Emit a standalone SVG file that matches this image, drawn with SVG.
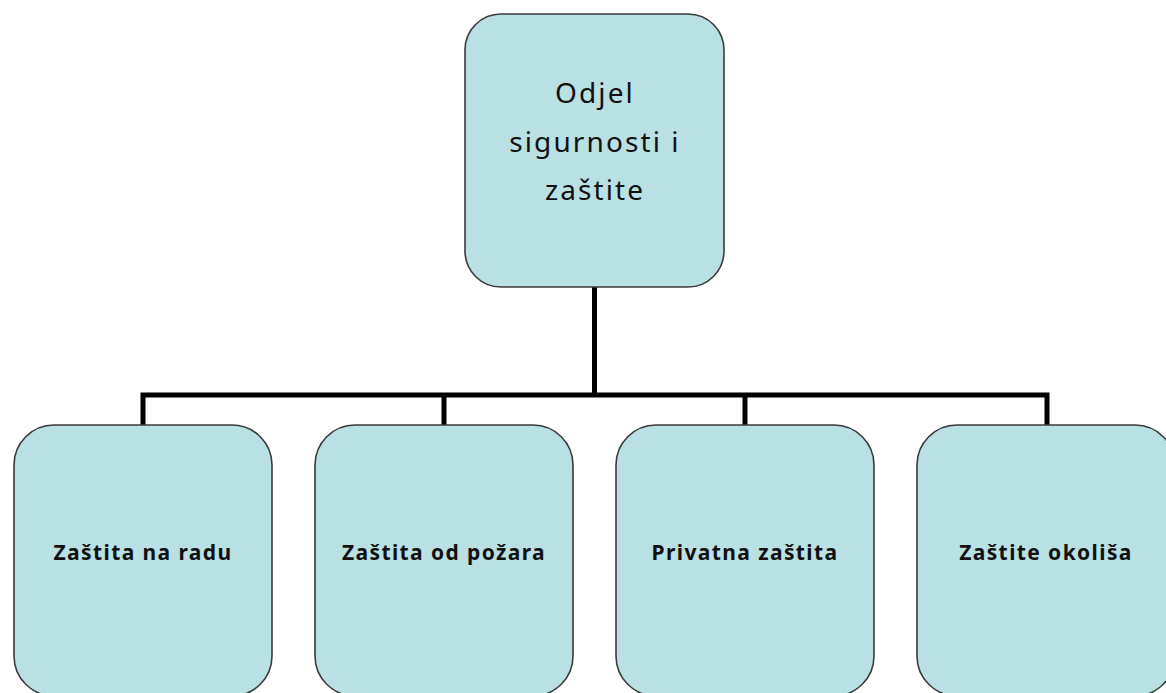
<svg xmlns="http://www.w3.org/2000/svg" width="1166" height="693" viewBox="0 0 1166 693">
<style>
.box{fill:#b9e0e3;stroke:#3a3a3a;stroke-width:1.6}
.top{font-family:"Noto Sans","DejaVu Sans",sans-serif;font-size:28px;letter-spacing:2.1px;fill:#111;text-anchor:middle}
.lbl{font-family:"Noto Sans","DejaVu Sans",sans-serif;font-size:21px;font-weight:bold;letter-spacing:1.4px;fill:#111;text-anchor:middle}
.con{fill:none;stroke:#000;stroke-width:5;stroke-linejoin:miter;stroke-linecap:butt}
</style>
<rect width="1166" height="693" fill="#fff"/>
<g id="connectors">
<path class="con" d="M594.5 287 V395"/>
<path class="con" d="M143 425 V395 H1047 V425"/>
<path class="con" d="M444 395 V425"/>
<path class="con" d="M745 395 V425"/>
</g>
<g id="node-root">
<rect class="box" x="465" y="14" width="259" height="273" rx="36" ry="36"/>
<text class="top" x="595" y="103">Odjel</text>
<text class="top" x="595" y="152">sigurnosti i</text>
<text class="top" x="595" y="200">zaštite</text>
</g>
<g id="node-1">
<rect class="box" x="14" y="425" width="258" height="271" rx="40" ry="40"/>
<text class="lbl" x="143" y="560">Zaštita na radu</text>
</g>
<g id="node-2">
<rect class="box" x="315" y="425" width="258" height="271" rx="40" ry="40"/>
<text class="lbl" x="444" y="560">Zaštita od požara</text>
</g>
<g id="node-3">
<rect class="box" x="616" y="425" width="258" height="271" rx="40" ry="40"/>
<text class="lbl" x="745" y="560">Privatna zaštita</text>
</g>
<g id="node-4">
<rect class="box" x="917" y="425" width="258" height="271" rx="40" ry="40"/>
<text class="lbl" x="1046" y="560">Zaštite okoliša</text>
</g>
</svg>
